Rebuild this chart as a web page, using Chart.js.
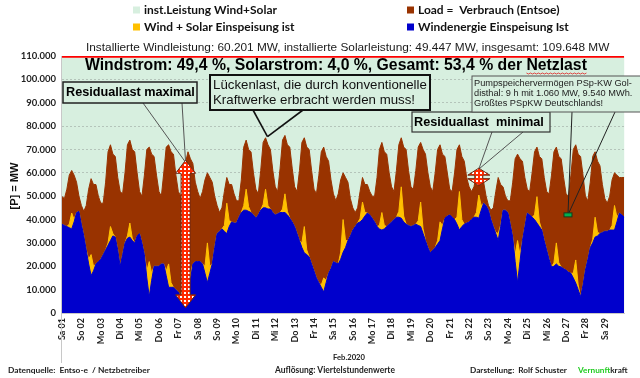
<!DOCTYPE html>
<html lang="de">
<head>
<meta charset="utf-8">
<title>Wind- und Solarstrom Februar 2020</title>
<script src="https://cdn.jsdelivr.net/npm/chart.js@4.4.1/dist/chart.umd.min.js"></script>
<style>
  html, body { margin: 0; padding: 0; background: #fff; }
  #wrap { position: relative; width: 640px; height: 378px; }
</style>
</head>
<body>
<div id="wrap"><canvas id="chart" width="640" height="378"></canvas></div>
<script>
//DAY LABELS OF THE X AXIS
const dayLabels = ['Sa 01','So 02','Mo 03','Di 04','Mi 05','Do 06','Fr 07','Sa 08','So 09','Mo 10',
  'Di 11','Mi 12','Do 13','Fr 14','Sa 15','So 16','Mo 17','Di 18','Mi 19','Do 20',
  'Fr 21','Sa 22','So 23','Mo 24','Di 25','Mi 26','Do 27','Fr 28','Sa 29']

//VALUES EVERY 3 HOURS (00 ... 21 h) IN MW, ONE ROW PER DAY, LAST VALUE = 01.03. 00 h
const STEP_DAYS = 0.125

const loadMW = [
  49800,49000,53000,59000,61000,59000,56000,50000,
  46000,43500,46000,53000,57500,55000,55000,50000,
  47000,47000,56000,69000,72000,68000,67000,58000,
  52000,51000,60000,72000,74000,70000,69000,60000,
  52000,50000,59000,70000,71000,68000,67000,59000,
  52000,50000,60000,71000,72000,69000,68000,59000,
  52000,50000,57000,64500,69000,66000,64000,56000,
  52000,49000,52000,57000,60000,58000,56000,50000,
  46000,43000,45000,52000,58000,55000,55000,51000,
  48000,48000,57000,71000,74000,70000,69000,60000,
  53000,51000,61000,73000,75000,72000,70000,61000,
  54000,52000,62000,74000,76000,72000,71000,62000,
  54000,52000,61000,73000,75000,71000,70000,61000,
  53000,51000,59000,69000,71000,67000,65000,57000,
  51000,48000,51000,57000,60000,58000,56000,49000,
  45000,43000,45000,52000,58000,55000,55000,52000,
  50000,50000,58000,70000,73000,69000,68000,60000,
  54000,52000,61000,72000,75000,71000,70000,61000,
  54000,53000,61000,71000,73000,70000,68000,60000,
  54000,52000,60000,70000,72000,68000,67000,60000,
  53000,52000,60000,70000,72000,67000,65000,58000,
  54000,52000,54000,59000,61000,58000,56000,50000,
  46000,44000,45000,52000,58000,55000,54000,50000,
  48000,48000,56000,66000,68000,66000,65000,58000,
  53000,52000,60000,69000,71000,67000,66000,58000,
  52000,51000,59000,69000,71000,67000,66000,58000,
  51000,50000,59000,70000,72000,68000,67000,59000,
  50000,48000,56000,67000,69000,65000,63000,55000,
  49000,47000,50000,57000,60000,59000,58000,58000,
  58000]

const windSolarMW = [
  38000,37500,37000,38000,42800,40000,43000,43500,
  38000,33000,27000,23000,25000,20000,21000,22000,
  23000,25000,27000,30000,37000,34000,32500,27000,
  20000,25000,30000,33000,38500,32000,30000,33000,
  34000,30000,25000,18000,22000,17000,20000,20000,
  20000,21000,21000,18000,21000,13000,11000,10000,
  9000,7000,5000,5000,20000,17000,21000,22000,
  22000,22000,21000,20000,30000,20000,21000,28000,
  34000,35000,36000,37500,47000,39500,39000,38500,
  38500,41000,43000,46000,53000,45500,43000,42000,
  40600,42000,44000,46500,53000,46000,44500,43000,
  42000,42500,43000,44500,51000,43500,40600,39000,
  37000,34000,31000,30000,37000,27000,24000,21000,
  18000,15000,13000,12000,15000,14000,17000,19000,
  22000,21500,21000,26000,40000,31000,31000,33000,
  35500,37000,38500,40500,47500,43000,42800,42000,
  40600,39000,37000,37500,43000,37500,37000,38000,
  39000,40000,41000,43500,54000,41500,38000,37500,
  37000,37500,38000,39500,47500,36000,31000,28000,
  25700,27000,28000,31000,39000,37500,40600,41500,
  42000,41000,40000,41000,52000,40000,38000,38500,
  39000,40000,41000,43000,50500,46000,47000,46000,
  44000,40000,37000,34500,34000,37500,44000,44000,
  43000,38000,32500,25000,31000,25000,31000,37000,
  42800,42000,41000,42000,49800,39000,35500,31000,
  27000,23000,19700,21500,30000,21500,19700,19000,
  18400,17500,17000,17000,22700,12000,7000,12000,
  18400,23000,28000,31500,41000,34500,34000,34500,
  35000,35000,35500,37500,46000,41000,42800,42000,
  41000]

const windMW = [
  38000,37500,37000,36500,36000,39000,43000,43500,
  38000,33000,27000,21000,16000,18000,21000,22000,
  23000,25000,27000,29000,31000,33000,32500,27000,
  20000,25000,30000,32000,32500,31000,30000,33000,
  34000,30000,25000,15000,7000,14000,20000,20000,
  20000,21000,21000,16000,11000,11000,11000,10000,
  9000,7000,5000,3500,7000,14000,21000,22000,
  22000,22000,21000,17000,13000,17000,21000,28000,
  34000,35000,36000,35000,34000,37000,39000,38500,
  38500,41000,43000,44000,44000,43500,43000,42000,
  40600,42000,44000,45000,45000,44500,44500,43000,
  42000,42500,43000,43000,43000,42000,40600,39000,
  37000,34000,31000,28000,25700,25000,24000,21000,
  18000,15000,13000,11000,9000,13000,17000,19000,
  22000,21500,21000,23000,26000,28000,31000,33000,
  35500,37000,38500,39000,40000,41500,42800,42000,
  40600,39000,37000,36000,35500,36000,37000,38000,
  39000,40000,41000,41000,40600,39000,38000,37500,
  37000,37500,38000,37500,37000,34000,31000,28000,
  25700,27000,28000,29500,31000,36000,40600,41500,
  42000,41000,40000,38000,35500,37000,38000,38500,
  39000,40000,41000,41000,40600,44000,47000,46000,
  44000,40000,37000,34000,31000,37000,44000,44000,
  43000,38000,32500,22000,13000,22000,31000,37000,
  42800,42000,41000,40000,38500,37000,35500,31000,
  27000,23000,19700,20000,21000,20000,19700,19000,
  18400,17500,17000,15000,12800,10000,7000,12000,
  18400,23000,28000,30000,32500,33000,34000,34500,
  35000,35000,35500,35500,35500,39000,42800,42000,
  41000]

//INSTALLED CAPACITY WIND + SOLAR
const installedDays = [0, 29]
const installedMW = [109648, 109648]

//ANNOTATION ANCHORS (DATA UNITS)
const residualMaxIndex = 51
const residualMin = { day: 21.5, fromMW: 54500, toMW: 62000 }
const pumpMarker = { day: 26.1, mw: 42000 }
const gapTarget = { day: 10.6, mw: 75500 }

const colInstalled = '#d7efdf'
const colLoad = '#993300'
const colWindSolar = '#ffc000'
const colWind = '#0000cc'

const ARIAL = '"Liberation Sans", Arial, sans-serif'
const CALIBRI = 'Lato, "Open Sans", sans-serif'

function toPoints(values) {
  return values.map((v, i) => ({ x: i * STEP_DAYS, y: v }))
}

//FORMAT 110000 -> 110.000
function handleThousands(pNumber) {
  return String(pNumber).replace(/\B(?=(\d{3})+(?!\d))/g, '.')
}

//FIT A FONT SIZE SO THE TEXT GETS A GIVEN WIDTH
function fitFont(ctx, text, width, weight, family) {
  ctx.font = `${weight} 100px ${family}`
  const size = 100 * width / ctx.measureText(text).width
  return `${weight} ${size.toFixed(2)}px ${family}`
}

function drawText(ctx, text, x, y, font, color, align) {
  ctx.font = font
  ctx.fillStyle = color
  ctx.textAlign = align || 'left'
  ctx.textBaseline = 'middle'
  ctx.fillText(text, x, y)
}

function drawLine(ctx, x1, y1, x2, y2, color, width) {
  ctx.beginPath()
  ctx.moveTo(x1, y1)
  ctx.lineTo(x2, y2)
  ctx.strokeStyle = color
  ctx.lineWidth = width
  ctx.stroke()
}

function drawBox(ctx, x, y, w, h, lineColor, lineWidth) {
  ctx.fillStyle = colInstalled
  ctx.fillRect(x, y, w, h)
  ctx.strokeStyle = lineColor
  ctx.lineWidth = lineWidth
  ctx.strokeRect(x, y, w, h)
}

//RED PATTERN WITH WHITE DOTS (LIKE THE EXCEL ARROW FILL)
function makeDotPattern(ctx) {
  const c = document.createElement('canvas')
  c.width = 4
  c.height = 4
  const p = c.getContext('2d')
  p.fillStyle = '#ff2a00'
  p.fillRect(0, 0, 4, 4)
  p.fillStyle = '#ffffff'
  p.fillRect(0, 0, 2, 2)
  return ctx.createPattern(c, 'repeat')
}

function drawDoubleArrow(ctx, x, yTop, yBottom, shaftW, headW, headL) {
  ctx.beginPath()
  ctx.moveTo(x, yTop)
  ctx.lineTo(x + headW / 2, yTop + headL)
  ctx.lineTo(x + shaftW / 2, yTop + headL)
  ctx.lineTo(x + shaftW / 2, yBottom - headL)
  ctx.lineTo(x + headW / 2, yBottom - headL)
  ctx.lineTo(x, yBottom)
  ctx.lineTo(x - headW / 2, yBottom - headL)
  ctx.lineTo(x - shaftW / 2, yBottom - headL)
  ctx.lineTo(x - shaftW / 2, yTop + headL)
  ctx.lineTo(x - headW / 2, yTop + headL)
  ctx.closePath()
  ctx.fillStyle = makeDotPattern(ctx)
  ctx.fill()
  ctx.strokeStyle = '#6b2a14'
  ctx.lineWidth = 1
  ctx.stroke()
}

const overlayPlugin = {
  id: 'overlay',
  //WHITE PAGE + INSTALLED CAPACITY BAND (BEHIND THE GRID)
  beforeDraw(chart) {
    const { ctx, chartArea, scales } = chart
    ctx.save()
    ctx.fillStyle = '#ffffff'
    ctx.fillRect(0, 0, chart.width, chart.height)
    const yInst = scales.y.getPixelForValue(installedMW[0])
    ctx.fillStyle = colInstalled
    ctx.fillRect(chartArea.left, yInst, chartArea.right - chartArea.left, chartArea.bottom - yInst)
    ctx.restore()
  },
  //ARROWS AND CALLOUTS
  afterDatasetsDraw(chart) {
    const { ctx, scales } = chart
    const px = d => scales.x.getPixelForValue(d)
    const py = v => scales.y.getPixelForValue(v)
    ctx.save()

    const xMax = px(residualMaxIndex * STEP_DAYS)
    const yMaxTop = py(loadMW[residualMaxIndex]) - 2
    const yMaxBottom = py(windMW[residualMaxIndex]) + 3
    const xMin = px(residualMin.day)
    const yMinTop = py(residualMin.toMW)
    const xPump = px(pumpMarker.day)
    const yPump = py(pumpMarker.mw)
    const xGap = px(gapTarget.day)
    const yGap = py(gapTarget.mw)

    //pointer lines
    drawLine(ctx, 143, 103, xMax, yMaxTop + 2, '#555', 1)
    drawLine(ctx, 182, 103, xMax, yMaxTop + 2, '#555', 1)
    drawLine(ctx, 253, 110, xGap, yGap, '#111', 1.6)
    drawLine(ctx, 303, 110, xGap, yGap, '#111', 1.6)
    drawLine(ctx, 492, 132, xMin, yMinTop + 1, '#555', 1)
    drawLine(ctx, 523, 132, xMin, yMinTop + 1, '#555', 1)
    drawLine(ctx, 572, 112, xPump, yPump, '#222', 1)
    drawLine(ctx, 615, 112, xPump, yPump, '#222', 1)

    //residual load arrows
    drawDoubleArrow(ctx, xMax, yMaxTop, yMaxBottom, 9, 20, 13)
    drawDoubleArrow(ctx, xMin, yMinTop, py(residualMin.fromMW), 8, 22, 7)

    //pumped storage marker
    ctx.fillStyle = '#00b050'
    ctx.fillRect(xPump - 4, yPump - 2, 8, 4)
    ctx.strokeStyle = '#1a3a1a'
    ctx.lineWidth = 1
    ctx.strokeRect(xPump - 4, yPump - 2, 8, 4)

    //callout boxes
    drawBox(ctx, 63, 82, 134, 21, '#222', 1.5)
    drawText(ctx, 'Residuallast maximal', 66, 92.5,
      fitFont(ctx, 'Residuallast maximal', 129, 'bold', ARIAL), '#000')

    drawBox(ctx, 210, 75, 220, 35, '#111', 2)
    const gapFont = fitFont(ctx, 'Lückenlast, die durch konventionelle', 214, 'normal', ARIAL)
    drawText(ctx, 'Lückenlast, die durch konventionelle', 213, 85, gapFont, '#111')
    drawText(ctx, 'Kraftwerke erbracht werden muss!', 213, 100, gapFont, '#111')

    drawBox(ctx, 412, 112, 138, 20, '#333', 1.2)
    drawText(ctx, 'Residuallast  minimal', 414, 122,
      fitFont(ctx, 'Residuallast  minimal', 130, 'bold', ARIAL), '#000')

    drawBox(ctx, 472, 76, 175, 36, '#555', 1)
    const pumpFont = fitFont(ctx, 'Pumpspeichervermögen PSp-KW Gol-', 158, 'normal', ARIAL)
    drawText(ctx, 'Pumpspeichervermögen PSp-KW Gol-', 474, 83.5, pumpFont, '#222')
    drawText(ctx, 'disthal: 9 h mit 1.060 MW, 9.540 MWh.', 474, 93.5, pumpFont, '#222')
    drawText(ctx, 'Größtes PSpKW Deutschlands!', 474, 103.5, pumpFont, '#222')

    ctx.restore()
  },
  //LEGEND, TITLES, AXIS TITLES, FOOTER
  afterDraw(chart) {
    const { ctx, chartArea } = chart
    ctx.save()

    //legend (2 x 2)
    const legendSpots = [[3, 133, 10], [2, 407, 10], [1, 133, 27], [0, 407, 27]]
    const legendFont = fitFont(ctx, 'inst.Leistung Wind+Solar', 133, 'bold', CALIBRI)
    legendSpots.forEach(([idx, x, y]) => {
      const ds = chart.data.datasets[idx]
      ctx.fillStyle = ds.backgroundColor
      ctx.fillRect(x, y - 3.5, 7, 7)
      drawText(ctx, ds.label, x + 11, y, legendFont, '#111')
    })

    //titles
    const t1 = 'Installierte Windleistung: 60.201 MW, installierte Solarleistung: 49.447 MW, insgesamt: 109.648 MW'
    drawText(ctx, t1, 86, 48, fitFont(ctx, t1, 524, 'normal', ARIAL), '#1a1a1a')
    const t2a = 'Windstrom: 49,4 %, Solarstrom: 4,0 %, Gesamt: 53,4 % der '
    const t2 = t2a + 'Netzlast'
    const t2Font = fitFont(ctx, t2, 502, 'bold', ARIAL)
    drawText(ctx, t2, 85, 65.5, t2Font, '#000')
    //spell check wave under "Netzlast"
    ctx.font = t2Font
    const wx0 = 85 + ctx.measureText(t2a).width
    const wx1 = 85 + ctx.measureText(t2).width
    ctx.beginPath()
    for (let x = wx0, k = 0; x <= wx1; x += 2, k++) {
      const y = 73 + (k % 2 ? 1 : 0)
      if (k === 0) ctx.moveTo(x, y)
      else ctx.lineTo(x, y)
    }
    ctx.strokeStyle = '#e02020'
    ctx.lineWidth = 0.8
    ctx.stroke()

    //left axis line down into the footer
    drawLine(ctx, chartArea.left - 0.5, 56, chartArea.left - 0.5, 363, '#c8c8c8', 1)

    //y axis title
    ctx.translate(15, 186)
    ctx.rotate(-Math.PI / 2)
    drawText(ctx, '[P] = MW', 0, 0, fitFont(ctx, '[P] = MW', 47, 'bold', ARIAL), '#111', 'center')
    ctx.setTransform(1, 0, 0, 1, 0, 0)

    //x axis title and footer
    drawText(ctx, 'Feb.2020', 333, 358, fitFont(ctx, 'Feb.2020', 32, 'bold', CALIBRI), '#222')
    drawText(ctx, 'Datenquelle:  Entso-e  / Netzbetreiber', 8, 370,
      fitFont(ctx, 'Datenquelle:  Entso-e  / Netzbetreiber', 142, 'bold', CALIBRI), '#222')
    drawText(ctx, 'Auflösung: Viertelstundenwerte', 275, 370,
      fitFont(ctx, 'Auflösung: Viertelstundenwerte', 120, 'bold', CALIBRI), '#222')
    const footFont = fitFont(ctx, 'Darstellung:  Rolf Schuster', 97, 'bold', CALIBRI)
    drawText(ctx, 'Darstellung:  Rolf Schuster', 470, 370, footFont, '#222')
    ctx.font = footFont
    const wVern = ctx.measureText('Vernunft').width
    drawText(ctx, 'Vernunft', 578, 370, footFont, '#22cc22')
    drawText(ctx, 'kraft', 578 + wVern, 370, footFont, '#222')

    ctx.restore()
  }
}

document.addEventListener('DOMContentLoaded', () => {
  const canvas = document.getElementById('chart')

  let datasets = [
    { label: 'Windenergie Einspeisung Ist', data: toPoints(windMW),
      borderColor: colWind, backgroundColor: colWind, borderWidth: 1, fill: 'origin' },
    { label: 'Wind + Solar Einspeisung ist', data: toPoints(windSolarMW),
      borderColor: colWindSolar, backgroundColor: colWindSolar, borderWidth: 1, fill: 'origin' },
    { label: 'Load =  Verbrauch (Entsoe)', data: toPoints(loadMW),
      borderColor: colLoad, backgroundColor: colLoad, borderWidth: 1, fill: 'origin' },
    { label: 'inst.Leistung Wind+Solar', data: installedDays.map((d, i) => ({ x: d, y: installedMW[i] })),
      borderColor: '#ff0000', backgroundColor: colInstalled, borderWidth: 2, fill: false }
  ]

  let options = {
    responsive: false,
    animation: false,
    devicePixelRatio: 1,
    layout: { padding: { top: 56, right: 8, left: 0, bottom: 0 } },
    elements: { point: { radius: 0 }, line: { tension: 0 } },
    plugins: { legend: { display: false }, tooltip: { enabled: false } },
    scales: {
      x: {
        type: 'linear', min: 0, max: 29,
        grid: { display: false, drawTicks: false },
        border: { color: '#c8c8c8' },
        ticks: {
          stepSize: 1, autoSkip: false, minRotation: 90, maxRotation: 90, padding: 5,
          color: '#222', font: { family: CALIBRI, weight: 'bold', size: 9 },
          callback: v => dayLabels[v] || ''
        },
        afterFit: s => { s.height = 65 }
      },
      y: {
        min: 0, max: 110000,
        grid: { color: '#b4c4ba', drawTicks: false },
        border: { display: false, dash: [2, 2] },
        ticks: {
          stepSize: 5000, padding: 6, color: '#222',
          font: { family: CALIBRI, weight: 'bold', size: 9.5 },
          callback: v => (v % 10000 === 0 ? handleThousands(v) : '')
        },
        afterFit: s => { s.width = 62 }
      }
    }
  }

  new Chart(canvas, {
    type: 'line',
    data: { datasets: datasets },
    options: options,
    plugins: [overlayPlugin]
  })
})
</script>
</body>
</html>
